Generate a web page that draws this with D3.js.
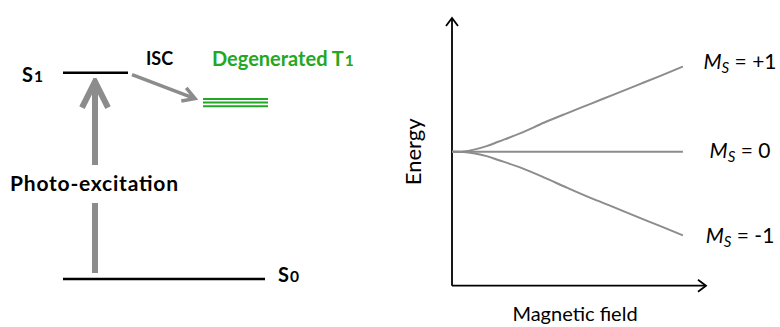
<!DOCTYPE html>
<html>
<head>
<meta charset="utf-8">
<script src="https://cdn.jsdelivr.net/npm/d3@7"></script>
<style>
  body { margin: 0; background: #fff; }
  svg { display: block; }
</style>
</head>
<body>
<svg id="chart" width="780" height="327"></svg>
<script>
// ---- data ----
// left panel: energy levels (S0 = 0, S1 = 1)
var levelNames = ["S0", "S1", "T1"];
var levelEnergy = [0, 1, 0.855];

// right panel: Zeeman splitting of T1 versus magnetic field
var field   = [0, 0.5, 1, 1.5, 2, 3, 4, 5, 6, 7, 8, 9, 10];
var msPlus  = [0, 0.05, 0.29, 0.67, 1.18, 2.22, 3.44, 4.55, 5.63, 6.72, 7.80, 8.88, 10];
var msZero  = [0, 0, 0, 0, 0, 0, 0, 0, 0, 0, 0, 0, 0];
var msMinus = [0, -0.03, -0.2, -0.5, -0.95, -1.88, -3.02, -4.23, -5.4, -6.48, -7.6, -8.69, -9.8];
var msLabels = ["+1", "0", "-1"];

var svg = d3.select("#chart");
var grey = "#8c8c8c";
var green = "#22a822";
var font = "Lato, 'Open Sans', sans-serif";

// arrow heads (open chevrons)
var defs = svg.append("defs");
function chevron(id, color, w, len, half) {
  defs.append("marker")
    .attr("id", id)
    .attr("markerUnits", "userSpaceOnUse")
    .attr("viewBox", (-len - 4) + " " + (-half - 4) + " " + (len + 8) + " " + (2 * half + 8))
    .attr("refX", 0).attr("refY", 0)
    .attr("markerWidth", len + 8).attr("markerHeight", 2 * half + 8)
    .attr("orient", "auto")
    .append("path")
      .attr("d", "M" + (-len) + "," + (-half) + "L0,0L" + (-len) + "," + half)
      .attr("fill", "none")
      .attr("stroke", color)
      .attr("stroke-width", w)
      .attr("stroke-linecap", "butt")
      .attr("stroke-linejoin", "miter");
}
chevron("headBig", grey, 6, 26, 13);
chevron("headIsc", grey, 3.5, 12, 7);
chevron("headAxis", "#000", 1.8, 8, 6);

// ================= left panel =================
var yLev = d3.scaleLinear().domain([0, 1]).range([279, 72.7]);
var levels = levelNames.map(function(n, i){ return {name: n, e: levelEnergy[i]}; });
var xLev = {S0: [63, 265], S1: [63, 128], T1: [203, 268]};

// singlet levels
svg.selectAll(".singlet")
  .data(levels.filter(function(d){ return d.name != "T1"; }))
  .enter().append("line")
    .attr("class", "singlet")
    .attr("x1", function(d){ return xLev[d.name][0]; })
    .attr("x2", function(d){ return xLev[d.name][1]; })
    .attr("y1", function(d){ return yLev(d.e); })
    .attr("y2", function(d){ return yLev(d.e); })
    .attr("stroke", "#000")
    .attr("stroke-width", 2.5);

// degenerated triplet: three stacked lines
var t1 = levels[2];
svg.selectAll(".triplet")
  .data([-3.7, 0, 3.7])
  .enter().append("line")
    .attr("class", "triplet")
    .attr("x1", xLev.T1[0]).attr("x2", xLev.T1[1])
    .attr("y1", function(d){ return yLev(t1.e) + d; })
    .attr("y2", function(d){ return yLev(t1.e) + d; })
    .attr("stroke", green)
    .attr("stroke-width", 2);

// photo-excitation arrow, broken around its label
var ax = 95;
svg.append("line")
  .attr("x1", ax).attr("x2", ax)
  .attr("y1", yLev(0) - 6).attr("y2", 203)
  .attr("stroke", grey).attr("stroke-width", 6);
svg.append("line")
  .attr("x1", ax).attr("x2", ax)
  .attr("y1", 165).attr("y2", yLev(1) + 9)
  .attr("stroke", grey).attr("stroke-width", 6)
  .attr("marker-end", "url(#headBig)");

// ISC arrow S1 -> T1
svg.append("line")
  .attr("x1", 132).attr("y1", yLev(1) + 2)
  .attr("x2", 195).attr("y2", yLev(t1.e) - 4)
  .attr("stroke", grey).attr("stroke-width", 3.5)
  .attr("marker-end", "url(#headIsc)");

// level labels with small digit
function levelLabel(x, y, main, sub, color, size) {
  var t = svg.append("text")
    .attr("x", x).attr("y", y)
    .attr("font-family", font)
    .attr("font-weight", "bold")
    .attr("font-size", size)
    .attr("fill", color);
  t.append("tspan").text(main);
  t.append("tspan").attr("font-size", size * 0.78).attr("dx", 1).text(sub);
  return t;
}
levelLabel(22, yLev(1) + 9, "S", "1", "#000", 20);
levelLabel(278, yLev(0) + 3, "S", "0", "#000", 20);
levelLabel(212, 66, "Degenerated T", "1", green, 20);

svg.append("text")
  .attr("x", 146).attr("y", 65)
  .attr("font-family", font).attr("font-weight", "bold")
  .attr("font-size", 18)
  .text("ISC");

svg.append("text")
  .attr("x", 10).attr("y", 191)
  .attr("font-family", font).attr("font-weight", "bold")
  .attr("font-size", 21)
  .attr("textLength", 168)
  .attr("lengthAdjust", "spacing")
  .text("Photo-excitation");

// ================= right panel =================
var x = d3.scaleLinear().domain([0, 11]).range([452, 706]);
var y = d3.scaleLinear().domain([-15.7, 15.7]).range([285.7, 18]);

// axes as arrows
svg.append("line")
  .attr("x1", x(0)).attr("y1", y(-15.7))
  .attr("x2", x(0)).attr("y2", y(15.7))
  .attr("stroke", "#000").attr("stroke-width", 1.8)
  .attr("marker-end", "url(#headAxis)");
svg.append("line")
  .attr("x1", x(0)).attr("y1", y(-15.7))
  .attr("x2", x(11)).attr("y2", y(-15.7))
  .attr("stroke", "#000").attr("stroke-width", 1.8)
  .attr("marker-end", "url(#headAxis)");

var series = [msPlus, msZero, msMinus].map(function(vals, i){
  return {label: msLabels[i], pts: field.map(function(b, j){ return [b, vals[j]]; })};
});

var line = d3.line()
  .x(function(d){ return x(d[0]); })
  .y(function(d){ return y(d[1]); })
  .curve(d3.curveMonotoneX);

svg.selectAll(".level")
  .data(series)
  .enter().append("path")
    .attr("class", "level")
    .attr("d", function(d){ return line(d.pts); })
    .attr("fill", "none")
    .attr("stroke", grey)
    .attr("stroke-width", 2);

// M_S labels at the line ends
var dyLab = [2, 6.5, 8];
var labs = svg.selectAll(".mslab")
  .data(series)
  .enter().append("text")
    .attr("class", "mslab")
    .attr("x", 740)
    .attr("y", function(d, i){ return y(d.pts[d.pts.length - 1][1]) + dyLab[i]; })
    .attr("text-anchor", "middle")
    .attr("font-family", font)
    .attr("font-size", 21)
    .attr("fill", "#000");
labs.append("tspan").attr("font-style", "italic").text("M");
labs.append("tspan").attr("font-style", "italic").attr("font-size", 15).attr("dy", 4).text("S");
labs.append("tspan").attr("dy", -4).text(function(d){ return " = " + d.label; });

// axis titles
svg.append("text")
  .attr("transform", "translate(421," + y(0) + ") rotate(-90)")
  .attr("text-anchor", "middle")
  .attr("font-family", font)
  .attr("font-size", 22)
  .text("Energy");

svg.append("text")
  .attr("x", 575).attr("y", 321)
  .attr("text-anchor", "middle")
  .attr("font-family", font)
  .attr("font-size", 20)
  .text("Magnetic field");
</script>
</body>
</html>
